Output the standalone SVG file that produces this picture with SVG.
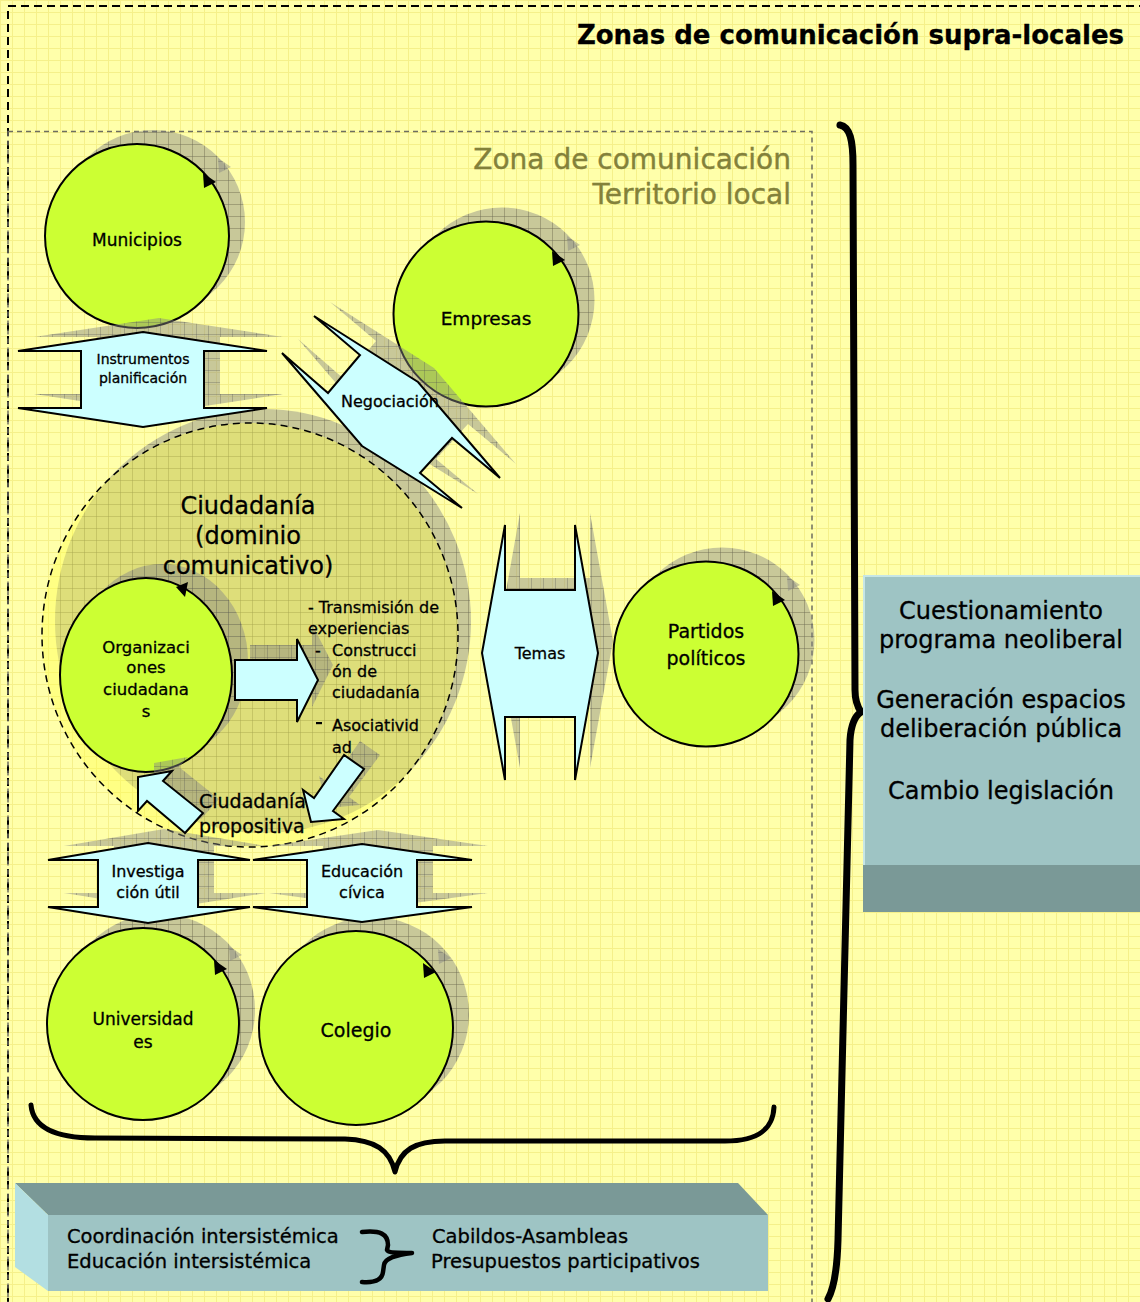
<svg xmlns="http://www.w3.org/2000/svg" width="1140" height="1302" viewBox="0 0 1140 1302">
  <defs>
    <!-- squared paper background -->
    <pattern id="paper" width="12" height="12" patternUnits="userSpaceOnUse">
      <rect width="12" height="12" fill="#FFFFAA"/>
      <path d="M0 0.5H12M0.5 0V12" stroke="#F5F08A" stroke-width="1" fill="none"/>
    </pattern>
    <!-- translucent drop shadow with grid texture -->
    <pattern id="shade" width="12" height="12" patternUnits="userSpaceOnUse">
      <rect width="12" height="12" fill="#858585" fill-opacity="0.45"/>
      <path d="M0 0.5H12M0.5 0V12" stroke="#505050" stroke-opacity="0.3" stroke-width="1" fill="none"/>
    </pattern>

    <!-- block arrow outlines -->
    <polygon id="shp-instr" points="143,332 267,351 204,351 204,408 267,408 143,427 18,408 81,408 81,351 18,351"/>
    <polygon id="shp-nego" points="314,316 418,382 500,478 452,438 420,473 462,508 362,446 282,353 328,393 360,355"/>
    <polygon id="shp-temas" points="505,525 505,590 575,590 575,525 598,653 575,780 575,717 505,717 505,780 482,653"/>
    <polygon id="shp-inv" points="148,843 250,860 198,860 198,907 250,907 148,923 48,907 98,907 98,860 48,860"/>
    <polygon id="shp-edu" points="362,844 472,860 417,860 417,907 472,907 362,922 253,907 307,907 307,860 253,860"/>
    <polygon id="shp-out" points="235,660 297,660 297,639 318,680 297,722 297,700 235,700"/>
    <polygon id="shp-down" points="344,755 314,798 303,790 311,822 344,819 333,811 364,769"/>
    <polygon id="shp-up" points="185,833 147,801 138,811 138,777 172,771 163,781 203,813"/>

    <!-- arrowhead on the rim of each cycle -->
    <path id="tip" d="M66,-63 L79,-54 L67,-48 Z"/>
  </defs>

  <style>
    .txt{font-family:"DejaVu Sans","Liberation Sans",sans-serif;fill:#000;stroke:#000;stroke-width:0.3}
    .c{text-anchor:middle}
    .node{fill:#CCFF33;stroke:#000;stroke-width:2}
    .arrow{fill:#CCFFFF;stroke:#000;stroke-width:2;stroke-linejoin:miter}
    .shade{fill:url(#shade);stroke:none}
    .tip{fill:#000}
    .brace{fill:none;stroke:#000;stroke-linecap:round;stroke-linejoin:round}
    .zone{font-family:"DejaVu Sans",sans-serif;fill:#83813A;stroke:#83813A;stroke-width:0.4;text-anchor:end}
  </style>

  <!-- paper -->
  <rect x="0" y="0" width="1140" height="1302" fill="url(#paper)"/>

  <!-- zones -->
  <g id="zone-supra">
    <rect x="8" y="6" width="1200" height="1400" fill="none" stroke="#000" stroke-width="2" stroke-dasharray="8 5"/>
    <text class="txt" x="1124" y="44" font-size="26" font-weight="bold" text-anchor="end" stroke-width="0">Zonas de comunicación supra-locales</text>
  </g>
  <g id="zone-local">
    <rect x="8" y="131.5" width="804" height="1300" fill="none" stroke="#6E6E60" stroke-width="1.5" stroke-dasharray="5 4"/>
    <text class="zone" x="791" y="169" font-size="28">Zona de comunicación</text>
    <text class="zone" x="791" y="204" font-size="28">Territorio local</text>
  </g>

  <!-- citizenship domain -->
  <g id="ciudadania">
    <ellipse class="shade" cx="263" cy="621" rx="208" ry="212"/>
    <ellipse cx="250" cy="635" rx="208" ry="212" fill="#FFFF4A" fill-opacity="0.4" stroke="#000" stroke-width="1.5" stroke-dasharray="7 5"/>
  </g>

  <!-- actors -->
  <g id="municipios">
    <circle class="shade" cx="153" cy="222" r="92"/>
    <use class="shade" href="#tip" transform="translate(152,221)"/>
    <circle class="node" cx="137" cy="236" r="92"/>
    <use class="tip" href="#tip" transform="translate(137,236)"/>
    <text class="txt c" x="137" y="246" font-size="17">Municipios</text>
  </g>

  <g id="empresas">
    <circle class="shade" cx="502" cy="300" r="92.5"/>
    <use class="shade" href="#tip" transform="translate(501,299)"/>
    <circle class="node" cx="486" cy="314" r="92.5"/>
    <use class="tip" href="#tip" transform="translate(486,314)"/>
    <text class="txt c" x="486" y="325" font-size="18.5">Empresas</text>
  </g>

  <g id="partidos">
    <circle class="shade" cx="722" cy="640" r="92.5"/>
    <use class="shade" href="#tip" transform="translate(721,639)"/>
    <circle class="node" cx="706" cy="654" r="92.5"/>
    <use class="tip" href="#tip" transform="translate(706,654)"/>
    <text class="txt c" x="706" y="638" font-size="19">Partidos</text>
    <text class="txt c" x="706" y="665" font-size="19">políticos</text>
  </g>

  <g id="organizaciones">
    <ellipse class="shade" cx="162" cy="661" rx="86" ry="97"/>
    <ellipse class="node" cx="146" cy="675" rx="86" ry="97"/>
    <polygon class="tip" points="176,587 188,582 185,597"/>
    <text class="txt c" x="146" y="653" font-size="16.5">Organizaci</text>
    <text class="txt c" x="146" y="673" font-size="16.5">ones</text>
    <text class="txt c" x="146" y="695" font-size="16.5">ciudadana</text>
    <text class="txt c" x="146" y="717" font-size="16.5">s</text>
  </g>

  <g id="universidades">
    <circle class="shade" cx="159" cy="1010" r="96"/>
    <use class="shade" href="#tip" transform="translate(163,1009)"/>
    <circle class="node" cx="143" cy="1024" r="96"/>
    <use class="tip" href="#tip" transform="translate(148,1023)"/>
    <text class="txt c" x="143" y="1025" font-size="17">Universidad</text>
    <text class="txt c" x="143" y="1048" font-size="17">es</text>
  </g>

  <g id="colegio">
    <circle class="shade" cx="372" cy="1014" r="97"/>
    <use class="shade" href="#tip" transform="translate(372,1012)"/>
    <circle class="node" cx="356" cy="1028" r="97"/>
    <use class="tip" href="#tip" transform="translate(357,1026)"/>
    <text class="txt c" x="356" y="1037" font-size="19">Colegio</text>
  </g>

  <!-- exchanges between actors -->
  <g id="connectors">
    <g id="instrumentos">
      <use class="shade" href="#shp-instr" transform="translate(16,-14)"/>
      <use class="arrow" href="#shp-instr"/>
      <text class="txt c" x="143" y="364" font-size="14">Instrumentos</text>
      <text class="txt c" x="143" y="383" font-size="14">planificación</text>
    </g>
    <g id="negociacion">
      <use class="shade" href="#shp-nego" transform="translate(16,-14)"/>
      <use class="arrow" href="#shp-nego"/>
      <text class="txt c" x="390" y="407" font-size="16">Negociación</text>
    </g>
    <g id="temas">
      <use class="shade" href="#shp-temas" transform="translate(15,-12)"/>
      <use class="arrow" href="#shp-temas"/>
      <text class="txt c" x="540" y="659" font-size="16">Temas</text>
    </g>
    <g id="investigacion">
      <use class="shade" href="#shp-inv" transform="translate(16,-14)"/>
      <use class="arrow" href="#shp-inv"/>
      <text class="txt c" x="148" y="877" font-size="16">Investiga</text>
      <text class="txt c" x="148" y="898" font-size="16">ción útil</text>
    </g>
    <g id="educacion">
      <use class="shade" href="#shp-edu" transform="translate(16,-14)"/>
      <use class="arrow" href="#shp-edu"/>
      <text class="txt c" x="362" y="877" font-size="16">Educación</text>
      <text class="txt c" x="362" y="898" font-size="16">cívica</text>
    </g>
    <g id="flujo-salida">
      <use class="shade" href="#shp-out" transform="translate(15,-15)"/>
      <use class="arrow" href="#shp-out"/>
    </g>
    <g id="flujo-propositiva">
      <use class="shade" href="#shp-down" transform="translate(16,-14)"/>
      <use class="arrow" href="#shp-down"/>
    </g>
    <g id="flujo-retorno">
      <use class="shade" href="#shp-up" transform="translate(16,-14)"/>
      <use class="arrow" href="#shp-up"/>
    </g>
  </g>

  <!-- labels inside the citizenship domain -->
  <g id="ciudadania-labels" class="txt">
    <text class="c" x="248" y="514" font-size="24">Ciudadanía</text>
    <text class="c" x="248" y="544" font-size="24">(dominio</text>
    <text class="c" x="248" y="574" font-size="24">comunicativo)</text>
    <text x="308" y="613" font-size="16">- Transmisión de</text>
    <text x="308" y="634" font-size="16">experiencias</text>
    <text x="315" y="656" font-size="16">-</text>
    <text x="332" y="656" font-size="16">Construcci</text>
    <text x="332" y="677" font-size="16">ón de</text>
    <text x="332" y="698" font-size="16">ciudadanía</text>
    <rect x="316" y="722" width="6" height="2.2" fill="#000" stroke="none"/>
    <text x="332" y="731" font-size="16">Asociativid</text>
    <text x="332" y="753" font-size="16">ad</text>
    <text x="199" y="808" font-size="19">Ciudadanía</text>
    <text x="199" y="833" font-size="19">propositiva</text>
  </g>

  <!-- groupings -->
  <g id="braces" class="brace">
    <path d="M31,1105 C33,1128 55,1138 95,1138 L345,1139 C375,1140 390,1150 395,1172 C400,1150 415,1141 445,1141 L725,1141 C760,1141 773,1128 774,1107" stroke-width="5"/>
    <path d="M840,125 C850,127 853,140 853,165 L855,690 C855,700 857,706 861,712 C855,716 851,724 850,740 L838,1240 C837,1275 833,1290 828,1299" stroke-width="7"/>
  </g>

  <!-- mechanisms slab -->
  <g id="mecanismos">
    <polygon points="15,1183 738,1183 768,1215 48,1215" fill="#7A9997"/>
    <polygon points="15,1183 48,1215 48,1291 15,1267" fill="#B3DFE2"/>
    <rect x="48" y="1215" width="720" height="76" fill="#9EC4C4"/>
    <path class="brace" d="M362,1232 C380,1230 388,1234 388,1245 L387,1250 C388,1253 398,1253 412,1253 C396,1255 385,1258 384,1265 L383,1272 C382,1280 375,1283 362,1282" stroke-width="4.5"/>
    <text class="txt" x="67" y="1243" font-size="19.5">Coordinación intersistémica</text>
    <text class="txt" x="67" y="1268" font-size="19.5">Educación intersistémica</text>
    <text class="txt" x="432" y="1243" font-size="19.5">Cabildos-Asambleas</text>
    <text class="txt" x="431" y="1268" font-size="19.5">Presupuestos participativos</text>
  </g>

  <!-- outcomes panel -->
  <g id="resultados">
    <rect x="863" y="575" width="280" height="290" fill="#9EC4C4"/>
    <rect x="863" y="865" width="280" height="47" fill="#7A9997"/>
    <path d="M864,865 V576 H1140" fill="none" stroke="#C6E6E6" stroke-width="2"/>
    <text class="txt c" x="1001" y="619" font-size="24">Cuestionamiento</text>
    <text class="txt c" x="1001" y="648" font-size="24">programa neoliberal</text>
    <text class="txt c" x="1001" y="708" font-size="24">Generación espacios</text>
    <text class="txt c" x="1001" y="737" font-size="24">deliberación pública</text>
    <text class="txt c" x="1001" y="799" font-size="24">Cambio legislación</text>
  </g>
</svg>
